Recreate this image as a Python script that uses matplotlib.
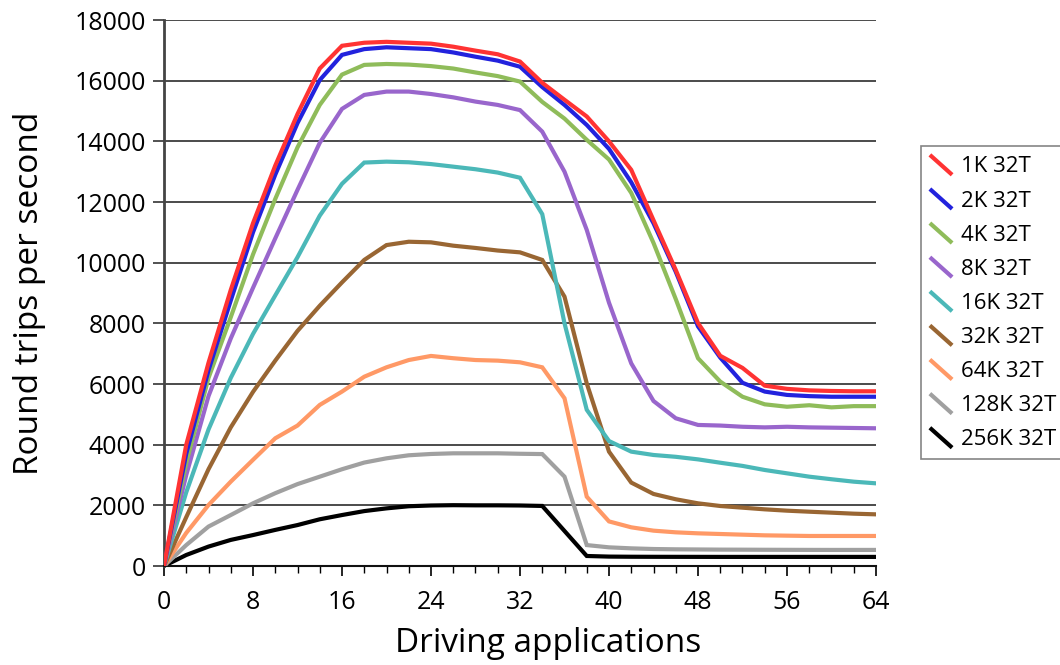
import matplotlib
matplotlib.use("Agg")
import matplotlib.pyplot as plt
from matplotlib.lines import Line2D
from matplotlib.legend_handler import HandlerLine2D

# Round trips per second vs number of driving applications, one series per message size
apps = list(range(0, 65, 2))

labels = ["1K 32T", "2K 32T", "4K 32T", "8K 32T", "16K 32T",
          "32K 32T", "64K 32T", "128K 32T", "256K 32T"]
colors = ["#FF3333", "#2222DD", "#8FBC5A", "#9966CC", "#4BB8B8",
          "#996633", "#FF9966", "#A0A0A0", "#000000"]

rt_1k = [0, 4000, 6700, 9100, 11300, 13200, 14900, 16400, 17150, 17250, 17280,
         17250, 17220, 17120, 16990, 16870, 16630, 15930, 15370, 14820, 14000,
         13060, 11400, 9760, 8010, 6930, 6530, 5945, 5840, 5790, 5770, 5760, 5760]
rt_2k = [0, 3700, 6450, 8750, 11000, 12900, 14600, 16020, 16850, 17040, 17100,
         17070, 17040, 16930, 16790, 16660, 16460, 15790, 15200, 14540, 13750,
         12650, 11300, 9700, 7900, 6870, 6040, 5750, 5640, 5600, 5580, 5580, 5580]
rt_4k = [0, 3400, 6200, 8200, 10270, 12100, 13800, 15200, 16200, 16520, 16550,
         16530, 16480, 16400, 16270, 16150, 15970, 15300, 14750, 14050, 13400,
         12300, 10650, 8800, 6850, 6080, 5580, 5330, 5250, 5300, 5230, 5270, 5270]
rt_8k = [0, 3000, 5600, 7500, 9170, 10800, 12400, 13950, 15070, 15530, 15640,
         15640, 15560, 15450, 15310, 15200, 15030, 14320, 13000, 11080, 8680,
         6680, 5440, 4870, 4650, 4630, 4590, 4570, 4590, 4570, 4560, 4550, 4540]
rt_16k = [0, 2430, 4500, 6200, 7650, 8920, 10180, 11550, 12600, 13300, 13330,
          13310, 13250, 13165, 13080, 12970, 12800, 11600, 8000, 5150, 4120,
          3770, 3660, 3600, 3515, 3405, 3300, 3165, 3055, 2945, 2860, 2780, 2725]
rt_32k = [0, 1610, 3190, 4570, 5740, 6770, 7750, 8580, 9350, 10090, 10580,
          10690, 10670, 10560, 10485, 10400, 10340, 10090, 8880, 6020, 3770,
          2750, 2375, 2200, 2066, 1978, 1923, 1868, 1824, 1790, 1758, 1725, 1703]
rt_64k = [0, 1090, 2010, 2780, 3500, 4210, 4630, 5310, 5750, 6240, 6550,
          6790, 6925, 6850, 6790, 6770, 6715, 6550, 5530, 2285, 1470,
          1275, 1165, 1110, 1077, 1055, 1033, 1011, 1000, 990, 990, 990, 990]
rt_128k = [0, 690, 1300, 1680, 2066, 2400, 2700, 2945, 3190, 3410, 3550,
           3650, 3693, 3715, 3715, 3715, 3700, 3690, 2945, 690, 615,
           582, 560, 550, 545, 540, 538, 535, 533, 531, 530, 530, 530]
rt_256k = [0, 363, 640, 860, 1020, 1190, 1350, 1540, 1680, 1810, 1900,
           1970, 1995, 2005, 2000, 2000, 1995, 1980, 1155, 330, 310,
           305, 303, 302, 301, 300, 300, 300, 300, 300, 300, 300, 300]

series = [rt_1k, rt_2k, rt_4k, rt_8k, rt_16k, rt_32k, rt_64k, rt_128k, rt_256k]


class HandlerDiagonal(HandlerLine2D):
    # legend key drawn as a short line falling from top-left to bottom-right
    def create_artists(self, legend, orig_handle, xdescent, ydescent,
                       width, height, fontsize, trans):
        line = Line2D([-xdescent, -xdescent + width],
                      [-ydescent + height, -ydescent],
                      color=orig_handle.get_color(),
                      linewidth=orig_handle.get_linewidth(),
                      solid_capstyle="butt")
        line.set_transform(trans)
        return [line]


plt.rcParams["font.family"] = ["Open Sans", "DejaVu Sans"]

fig = plt.figure(figsize=(10.6, 6.65), dpi=100)
ax = fig.add_axes([164 / 1060, 1 - 566 / 665, (876 - 164) / 1060, (566 - 20) / 665])

handles = []
for i in range(len(series) - 1, -1, -1):
    h, = ax.plot(apps, series[i], color=colors[i], linewidth=3.0,
                 solid_joinstyle="miter", zorder=10 - i, label=labels[i])
    handles.insert(0, h)

ax.set_xlim(0, 64)
ax.set_ylim(0, 18000)
ax.set_xticks(range(0, 65, 8))
ax.set_xticks(range(0, 65, 2), minor=True)
ax.set_yticks(range(0, 18001, 2000))

ax.yaxis.grid(True, color="#1a1a1a", linewidth=1.1)
ax.set_axisbelow(True)

for side in ["top", "right"]:
    ax.spines[side].set_visible(False)
ax.spines["left"].set_color("#444444")
ax.spines["left"].set_linewidth(2.0)
ax.spines["bottom"].set_color("#111111")
ax.spines["bottom"].set_linewidth(1.5)

ax.tick_params(axis="y", length=8, width=1.1, color="#222222", labelsize=18, pad=5)
ax.tick_params(axis="x", which="major", length=7.5, width=1.2, labelsize=18, pad=10)
ax.tick_params(axis="x", which="minor", length=5, width=1.0)

ax.set_xlabel("Driving applications", fontsize=24)
ax.set_ylabel("Round trips per second", fontsize=24)
ax.xaxis.set_label_coords((548 - 164) / 712, (566 - 627) / 546)
ax.yaxis.set_label_coords((46 - 164) / 712, 0.5)

leg = ax.legend(handles, labels, handler_map={Line2D: HandlerDiagonal()},
                loc="upper left", bbox_to_anchor=(921 / 1060, 1 - 146 / 665),
                bbox_transform=fig.transFigure, borderaxespad=0,
                fontsize=16, frameon=True, fancybox=False,
                edgecolor="#666666", handlelength=1.0, handleheight=1.0,
                handletextpad=0.4, labelspacing=0.52, borderpad=0.4)
leg.get_frame().set_linewidth(1.2)

fig.savefig("out.png", dpi=100)
